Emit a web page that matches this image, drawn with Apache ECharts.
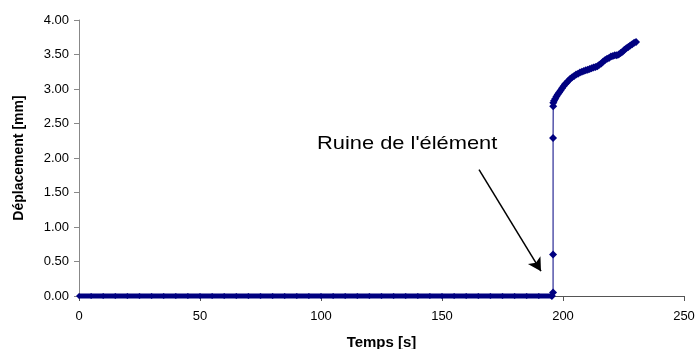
<!DOCTYPE html>
<html>
<head>
<meta charset="utf-8">
<script src="https://cdn.jsdelivr.net/npm/echarts@6/dist/echarts.min.js"></script>
<style>
  html, body { margin: 0; padding: 0; background: #ffffff; }
  #chart { width: 697px; height: 349px; }
</style>
</head>
<body>
<div id="chart"></div>
<script>
// Displacement measured during the test: stable phase, then failure of the element.
var stableTime = [0, 5, 10, 15, 20, 25, 30, 35, 40, 45, 50, 55, 60, 65, 70, 75, 80, 85, 90, 95,
  100, 105, 110, 115, 120, 125, 130, 135, 140, 145, 150, 155, 160, 165, 170, 175, 180, 185, 190, 195.4];
var stableDisp = [0, 0, 0, 0, 0, 0, 0, 0, 0, 0, 0, 0, 0, 0, 0, 0, 0, 0, 0, 0,
  0, 0, 0, 0, 0, 0, 0, 0, 0, 0, 0, 0, 0, 0, 0, 0, 0, 0, 0, 0];

var failTime = [195.4, 195.9, 195.9, 195.9, 195.95, 196.0, 196.3, 196.8, 197.3, 197.8, 198.4, 199.0,
  199.6, 200.2, 200.8, 201.5, 202.2, 203.0, 203.8, 204.6, 205.4, 206.2, 207.0, 207.8,
  208.6, 209.4, 210.2, 211.0, 211.8, 212.6, 213.4, 214.2, 215.0, 215.8, 216.6, 217.4,
  218.2, 219.0, 219.8, 220.6, 221.4, 222.2, 223.0, 223.8, 224.6, 225.4, 226.2, 227.0,
  227.8, 228.6, 229.4, 230.2];
var failDisp = [0.00, 0.05, 0.60, 2.29, 2.75, 2.80, 2.83, 2.86, 2.89, 2.92, 2.95, 2.98,
  3.01, 3.04, 3.07, 3.09, 3.12, 3.15, 3.17, 3.19, 3.21, 3.22, 3.24, 3.25,
  3.26, 3.27, 3.28, 3.29, 3.30, 3.31, 3.32, 3.33, 3.35, 3.37, 3.40, 3.42,
  3.44, 3.45, 3.47, 3.48, 3.49, 3.49, 3.50, 3.52, 3.54, 3.57, 3.59, 3.61,
  3.63, 3.65, 3.67, 3.68];

var xTicks = [0, 50, 100, 150, 200, 250];
var yTicks = [0, 0.5, 1, 1.5, 2, 2.5, 3, 3.5, 4];

// annotation arrow, in data units (start, tip)
var arrowFrom = [165.3, 1.83];
var arrowTo = [190.9, 0.36];
var annotation = "Ruine de l'élément";

function pairs(xs, ys) {
  return xs.map(function (x, i) { return [x, ys[i]]; });
}

var navy = '#000080';
var chart = echarts.init(document.getElementById('chart'));
chart.setOption({
  animation: false,
  backgroundColor: '#ffffff',
  textStyle: { fontFamily: 'Liberation Sans, Arial, sans-serif' },
  grid: { left: 79, right: 13, top: 20, bottom: 53, containLabel: false, outerBoundsMode: 'none' },
  xAxis: {
    type: 'value',
    min: xTicks[0], max: xTicks[xTicks.length - 1], interval: 50,
    name: 'Temps [s]', nameLocation: 'middle', nameGap: 39,
    nameTextStyle: { fontSize: 15, fontWeight: 'bold', color: '#000' },
    axisLine: { show: true, lineStyle: { color: '#555', width: 1 } },
    axisTick: { show: true, inside: false, length: 5, lineStyle: { color: '#555' } },
    axisLabel: { fontSize: 13, color: '#000', margin: 14 },
    splitLine: { show: false }
  },
  yAxis: {
    type: 'value',
    min: yTicks[0], max: yTicks[yTicks.length - 1], interval: 0.5,
    name: 'Déplacement [mm]', nameLocation: 'middle', nameGap: 53,
    nameTextStyle: { fontSize: 14, fontWeight: 'bold', color: '#000' },
    axisLine: { show: true, lineStyle: { color: '#888', width: 1 } },
    axisTick: { show: true, inside: false, length: 5, lineStyle: { color: '#888' } },
    axisLabel: { fontSize: 13, color: '#000', margin: 10,
      formatter: function (v) { return v.toFixed(2); } },
    splitLine: { show: false }
  },
  graphic: [{
    type: 'text', left: 317, top: 134, scaleX: 1.15,
    style: { text: annotation, fontSize: 19, fill: '#000',
      fontFamily: 'Liberation Sans, Arial, sans-serif' }
  }],
  series: [{
    name: 'stable',
    type: 'line',
    clip: false,
    data: pairs(stableTime, stableDisp),
    symbol: 'diamond', symbolSize: 6,
    itemStyle: { color: navy },
    lineStyle: { color: navy, width: 5 },
    z: 3,
    markLine: {
      silent: true,
      symbol: ['none', 'arrow'],
      symbolSize: [11, 13],
      lineStyle: { color: '#000', width: 1.5, type: 'solid' },
      label: { show: false },
      data: [[{ coord: arrowFrom }, { coord: arrowTo }]]
    }
  }, {
    name: 'rupture',
    type: 'line',
    clip: false,
    data: pairs(failTime, failDisp),
    symbol: 'diamond', symbolSize: 8,
    itemStyle: { color: navy },
    lineStyle: { color: navy, width: 1 },
    z: 4
  }]
});
</script>
</body>
</html>
